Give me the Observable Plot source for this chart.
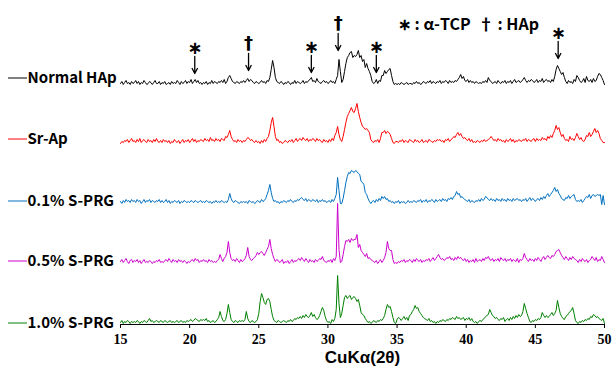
<!DOCTYPE html>
<html><head><meta charset="utf-8">
<script src="https://cdn.jsdelivr.net/npm/d3@7"></script>
<script src="https://cdn.jsdelivr.net/npm/@observablehq/plot@0.6"></script>
<style>body{margin:0;background:#fff}#chart{width:612px;height:372px}</style>
</head><body><div id="chart"></div>
<script>
const seriesNames = ["Normal HAp", "Sr-Ap", "0.1% S-PRG", "0.5% S-PRG", "1.0% S-PRG"];
const seriesColors = ["#000000", "#ff0000", "#0070c0", "#cc00cc", "#008000"];
const twoThetaStart = 15, twoThetaStep = 0.1;
const xTicks = [15, 20, 25, 30, 35, 40, 45, 50];

// intensities (arbitrary units) at 2θ = 15.0, 15.1, ... 50.0
const normalHAp = [
2,4,1,3,5,2,3,1,4,2, 3,5,2,4,1,3,2,5,3,1, 2,4,3,1,3,5,2,2,4,1, 3,2,4,1,2,3,1,4,2,3,
2,5,3,1,4,2,3,5,2,4, 3,6,2,4,6,3,5,2,3,1, 3,2,4,1,3,2,5,2,4,3, 2,4,3,5,3,6,2,4,8,10,
7,4,3,2,4,3,2,4,3,5, 3,5,7,4,6,5,3,2,4,3, 2,3,5,3,4,2,5,4,8,16, 25,18,8,4,3,2,4,3,1,3,
2,4,3,1,3,2,5,2,4,3, 2,3,5,2,4,3,5,6,8,4, 5,3,7,4,3,2,4,5,3,4, 2,3,5,3,4,2,6,10,26,14,
3,6,14,22,28,30,33,34,28,30, 29,31,35,28,30,24,26,18,22,17, 14,10,4,2,3,6,2,5,4,10, 10,15,12,14,16,17,10,4,1,2,
1,2,1,3,2,1,2,3,1,2, 2,1,3,2,4,2,3,1,2,4, 3,2,4,3,5,2,4,3,2,4, 3,5,2,4,3,5,4,2,5,3,
4,3,5,4,6,8,11,7,9,5, 4,6,3,5,3,4,2,4,3,2, 3,2,4,3,5,3,8,5,4,2, 3,4,2,5,3,2,4,3,5,2,
4,3,5,2,4,6,3,4,5,3, 4,6,8,5,3,5,4,6,5,3, 4,6,3,5,4,7,3,5,6,4, 5,3,6,4,9,16,20,17,14,11,
13,8,4,2,5,3,4,2,6,4, 10,8,5,3,4,7,3,9,5,4, 6,3,7,4,5,9,12,11,8,5, 1];
const srAp = [
1,3,2,4,3,5,2,4,6,3, 4,2,5,3,6,2,4,5,3,2, 5,3,4,2,5,3,6,3,2,4, 2,5,3,4,2,4,1,3,2,5,
3,2,4,1,3,5,2,4,3,5, 2,4,6,3,5,2,4,3,5,4, 3,6,4,5,3,7,4,5,3,6, 4,5,3,6,5,4,8,7,10,14,
8,5,3,4,2,5,3,4,2,4, 3,5,7,6,4,5,3,2,4,2, 3,1,4,2,5,3,6,8,14,22, 27,18,8,4,5,2,3,1,2,4,
3,2,4,3,5,2,4,6,3,5, 6,4,7,5,4,6,3,5,4,6, 5,3,6,4,5,3,2,5,3,4, 2,5,3,6,4,9,12,18,10,5,
3,8,15,22,28,31,34,37,33,32, 36,41,33,27,22,18,17,15,16,14, 12,5,3,2,4,3,5,2,6,12, 12,14,11,13,12,10,6,2,1,3,
3,2,4,3,5,2,4,3,2,5, 4,3,2,5,3,4,2,3,5,2, 3,4,2,5,4,3,2,4,3,5, 4,5,3,4,2,5,4,6,3,5,
6,8,7,10,12,9,11,8,6,7, 5,4,6,3,5,2,3,2,4,3, 2,4,3,5,3,4,5,6,8,6, 4,5,3,6,4,5,3,4,2,5,
3,4,6,3,5,2,4,3,5,4, 3,5,4,6,3,5,4,3,5,6, 3,6,4,5,4,7,5,6,4,8, 6,9,7,11,14,19,15,17,12,8,
10,6,4,5,3,8,5,6,4,7, 11,8,5,7,4,3,5,9,8,12, 8,10,13,16,12,14,11,6,4,2, 2];
const sprg01 = [
3,1,4,2,5,3,4,2,5,3, 4,2,5,3,4,1,3,5,2,4, 3,5,2,4,3,2,4,3,5,2, 4,2,3,5,2,4,1,3,2,4,
3,2,4,1,3,2,4,3,2,3, 2,4,3,2,4,3,2,3,4,2, 3,2,4,3,2,3,1,3,2,4, 2,3,2,4,3,2,3,2,5,11,
6,3,2,4,3,2,1,3,2,3, 2,3,1,4,3,2,3,1,2,4, 3,2,5,3,4,6,10,14,20,12, 6,3,4,2,3,1,3,2,4,3,
2,4,3,5,3,2,4,3,5,4, 6,7,5,4,6,3,5,4,3,5, 4,3,5,2,4,3,5,3,4,2, 3,4,2,5,3,6,10,27,14,1,
1,6,14,22,28,32,31,34,33,32, 34,33,31,30,23,22,20,12,10,6, 3,1,3,4,2,5,3,6,4,8, 6,8,5,6,3,4,2,3,1,3,
2,4,1,3,2,3,1,2,4,2, 3,2,4,3,2,4,3,5,2,4, 3,5,2,4,3,5,4,2,5,3, 4,5,3,6,4,5,3,6,5,7,
5,8,9,13,10,11,7,8,6,5, 4,3,5,2,4,3,2,4,3,5, 3,6,4,5,8,7,5,4,6,4, 5,3,6,4,5,3,6,4,5,3,
6,4,5,3,6,4,5,6,4,5, 3,5,4,6,3,5,7,4,6,5, 3,5,6,4,7,5,8,6,9,11, 8,10,12,14,17,13,15,11,9,6,
5,4,7,6,9,6,8,9,10,5, 3,4,3,5,2,4,6,8,7,10, 6,9,10,8,9,10,9,10,0,9, 0];
const sprg05 = [
3,5,2,4,6,3,1,4,5,2, 4,3,5,2,4,1,3,5,2,3, 2,4,3,1,3,2,4,3,5,2, 3,2,4,5,3,6,4,2,5,3,
4,2,5,3,4,2,4,3,1,3, 2,4,5,3,6,4,5,2,4,3, 5,3,4,2,5,3,4,2,3,2, 4,5,10,6,3,6,8,12,23,12,
6,4,5,3,6,4,2,5,3,4, 6,9,17,8,5,4,6,7,9,12, 10,12,13,11,9,12,15,18,25,16, 10,6,3,5,4,2,3,5,1,3,
2,4,1,3,5,2,4,3,5,6, 4,7,5,3,6,4,2,5,3,4, 2,5,3,4,6,5,8,4,3,2, 4,3,5,2,6,4,8,61,15,2,
3,10,18,24,23,25,22,26,24,25, 25,30,17,20,14,12,10,8,11,6, 7,5,4,3,2,4,1,3,5,2, 4,7,12,23,16,14,14,5,1,2,
1,3,2,4,3,5,2,4,3,5, 4,2,5,3,6,4,3,5,2,4, 3,5,4,6,3,5,7,4,6,8, 10,7,5,6,4,5,7,6,8,5,
6,4,7,5,8,6,7,5,4,6, 3,5,2,4,3,5,2,6,3,4, 5,3,6,4,7,6,8,5,4,6, 3,5,4,6,3,7,5,4,6,3,
5,4,6,3,5,4,3,6,2,5, 4,6,11,7,5,3,6,4,5,3, 6,4,7,5,3,6,8,5,7,9, 7,6,9,8,10,13,14,15,12,9,
7,5,8,6,4,7,5,8,6,5, 4,2,5,3,6,4,3,5,2,4, 5,8,6,4,7,3,5,4,8,5, 2];
const sprg10 = [
1,3,0,2,1,3,2,0,2,1, 2,1,3,2,0,2,1,3,2,1, 3,5,2,3,1,2,3,2,1,3, 2,1,3,2,1,2,3,1,2,1,
2,3,1,2,3,1,2,1,3,2, 3,4,2,3,5,4,3,2,4,3, 4,3,5,2,3,1,2,3,1,2, 4,6,12,7,3,2,4,10,19,11,
4,2,1,3,2,1,3,2,3,2, 4,12,5,2,1,3,2,1,2,4, 10,22,30,26,21,19,24,25,22,14, 7,3,2,1,3,2,1,2,3,2,
1,3,2,4,2,3,5,4,6,5, 7,5,8,6,9,7,6,8,11,7, 9,6,4,5,8,12,16,13,7,3, 1,2,0,4,2,5,14,48,20,6,
10,18,26,28,25,27,28,24,26,27, 25,22,24,18,11,9,8,5,3,1, 2,0,1,3,2,1,3,2,4,3, 5,8,14,19,16,17,12,6,1,0,
4,6,5,3,5,7,4,6,3,8, 9,12,14,18,15,16,12,10,8,6, 5,4,3,5,2,3,1,2,0,2, 1,3,2,4,3,2,4,3,5,4,
6,5,4,7,5,6,4,5,6,3, 5,4,6,3,5,2,1,2,0,2, 3,2,4,5,7,8,9,14,11,8, 7,5,6,4,3,5,4,6,2,4,
5,3,6,4,7,5,8,6,9,7, 8,12,20,15,10,6,2,1,3,2, 4,3,5,4,6,11,8,6,8,6, 7,9,11,8,10,13,23,16,10,7,
5,4,7,8,10,12,13,16,10,3, 1,0,2,1,3,2,4,3,5,4, 7,6,9,8,6,7,5,4,3,5, 0];

const seriesValues = [normalHAp, srAp, sprg01, sprg05, sprg10];
const offsets = [239, 180, 120, 60, 1];
const labelLift = [7, 5, 3, 3, 0];

// peak markers: ∗ α-TCP, † HAp
const markerX = [20.37, 24.26, 28.8, 30.74, 33.5, 46.65];
const markerSymbol = ["∗", "†", "∗", "†", "∗", "∗"];
const markerTip = [251, 254, 252, 274, 252, 266];

const rows = seriesValues.flatMap((vals, k) => vals.map((v, i) => ({
  x: +(twoThetaStart + i * twoThetaStep).toFixed(1), y: offsets[k] + v, series: seriesNames[k]
})));
const labels = seriesNames.map((n, k) => ({name: n, y: offsets[k] + labelLift[k], color: seriesColors[k]}));
const markers = markerX.map((x, i) => ({x, sym: markerSymbol[i], tip: markerTip[i]}));
const sans = "'Noto Sans CJK JP', 'Noto Sans', sans-serif";

function legendLines(index, scales) {
  const g = d3.create("svg:g");
  labels.forEach(l => {
    const y = scales.y(l.y);
    g.append("line").attr("x1", 8).attr("x2", 27).attr("y1", y).attr("y2", y)
      .attr("stroke", l.color).attr("stroke-width", 1);
  });
  return g.node();
}

const chart = Plot.plot({
  width: 612, height: 372,
  marginLeft: 120, marginRight: 8, marginTop: 0, marginBottom: 48,
  x: {domain: [15, 50]},
  y: {domain: [0, 324], axis: null},
  color: {domain: seriesNames, range: seriesColors},
  style: {background: "#fff", color: "#000"},
  marks: [
    Plot.line(rows, {x: "x", y: "y", z: "series", stroke: "series", strokeWidth: 1}),
    Plot.ruleY([0], {stroke: "#000", strokeWidth: 1.2}),
    Plot.axisX({ticks: xTicks, tickSize: 4, tickPadding: 6, fontSize: 14, fontWeight: "bold",
      fontFamily: "'Liberation Serif', serif", label: null, stroke: "#000"}),
    legendLines,
    Plot.text(labels, {y: "y", text: "name", frameAnchor: "left", dx: -93, textAnchor: "start",
      fontSize: 15, fontWeight: "bold", fontFamily: sans, fill: "#000"}),
    Plot.arrow(markers, {x1: "x", x2: "x", y1: d => d.tip + 17, y2: d => d.tip,
      stroke: "#000", strokeWidth: 1.3, headLength: 7, headAngle: 55}),
    Plot.text(markers, {x: "x", y: d => d.tip + 17 + (d.sym === "†" ? 10 : 8), text: "sym",
      fontSize: 18, fontWeight: "bold", fontFamily: "'DejaVu Sans', sans-serif", fill: "#000"}),
    Plot.text(["∗ : α-TCP  † : HAp"], {frameAnchor: "top", dx: 106, dy: 18, text: d => d,
      fontSize: 16, fontWeight: "bold", fontFamily: sans, fill: "#000"}),
    Plot.text(["CuKα(2θ)"], {frameAnchor: "bottom", dy: 38, text: d => d,
      fontSize: 17, fontWeight: "bold", fontFamily: "'Liberation Sans', Arial, sans-serif", fill: "#000"})
  ]
});
document.getElementById("chart").append(chart);
</script></body></html>
